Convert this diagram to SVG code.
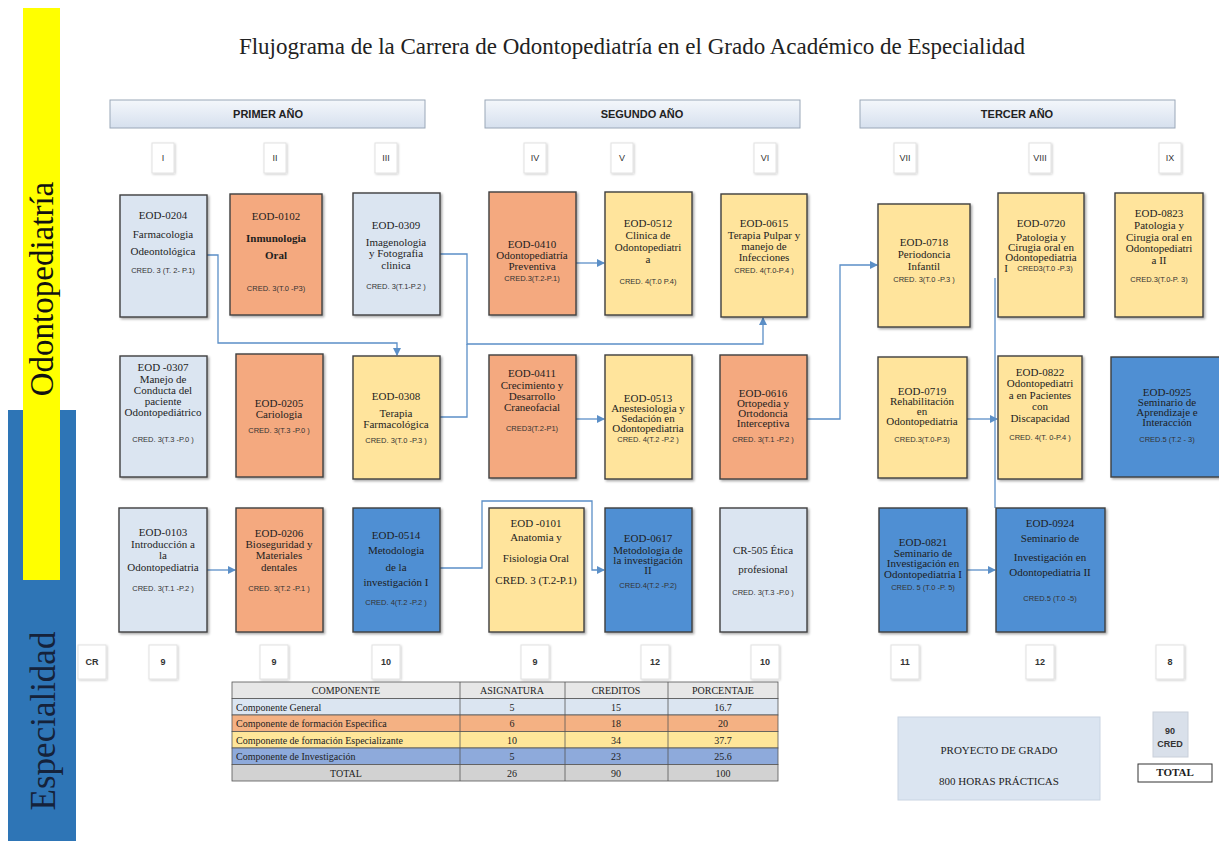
<svg xmlns="http://www.w3.org/2000/svg" width="1219" height="841" viewBox="0 0 1219 841">
<style>
.t{font-family:"Liberation Serif",serif;font-size:11px;fill:#1e1e1e;text-anchor:middle}
.c{font-family:"Liberation Sans",sans-serif;font-size:7.5px;fill:#333;text-anchor:middle}
.box{stroke:#3f3f3f;stroke-width:1.4;filter:url(#sh)}
.lb{fill:#dbe5f1}.or{fill:#f4a97f}.ye{fill:#ffe49c}.bl{fill:#4f8fd3}
.sm{fill:#fff;stroke:#e2e2e2;stroke-width:1;filter:url(#sh2)}
.sl{font-family:"Liberation Sans",sans-serif;font-size:9px;fill:#333;text-anchor:middle}
.yr{fill:url(#gy);stroke:#9aa7b8;stroke-width:1}
.yt{font-family:"Liberation Sans",sans-serif;font-size:11px;font-weight:bold;fill:#222;text-anchor:middle}
.cn{fill:none;stroke:#5b8fc7;stroke-width:1.3}
.tb{font-family:"Liberation Serif",serif;font-size:10px;fill:#222;text-anchor:middle}
.tl{font-family:"Liberation Serif",serif;font-size:10px;fill:#222}
.cell{stroke:#555;stroke-width:0.8}
</style>
<defs>
<filter id="sh" x="-10%" y="-10%" width="130%" height="130%"><feDropShadow dx="1.5" dy="1.5" stdDeviation="1" flood-color="#000" flood-opacity="0.35"/></filter>
<filter id="sh2" x="-20%" y="-20%" width="150%" height="150%"><feDropShadow dx="1" dy="1" stdDeviation="1" flood-color="#000" flood-opacity="0.2"/></filter>
<linearGradient id="gy" x1="0" y1="0" x2="0" y2="1"><stop offset="0" stop-color="#f4f7fb"/><stop offset="1" stop-color="#d6e0ee"/></linearGradient>
<marker id="ar" markerWidth="8" markerHeight="8" refX="7" refY="4" orient="auto" markerUnits="userSpaceOnUse"><path d="M0,0 L8,4 L0,8 z" fill="#5b8fc7"/></marker>
</defs>
<rect width="1219" height="841" fill="#fff"/>

<!-- side bars -->
<g id="side">
<rect x="8" y="410" width="68" height="431" fill="#2e75b6"/>
<rect x="23" y="8" width="37" height="572" fill="#ffff00"/>
<text transform="translate(53,289) rotate(-90)" font-family="Liberation Serif, serif" font-size="33" fill="#111" text-anchor="middle">Odontopediatría</text>
<text transform="translate(55,721) rotate(-90)" font-family="Liberation Serif, serif" font-size="35" fill="#15223a" text-anchor="middle">Especialidad</text>
</g>

<text x="632" y="54" font-family="Liberation Serif, serif" font-size="23" fill="#222" text-anchor="middle">Flujograma de la Carrera de Odontopediatría en el Grado Académico de Especialidad</text>

<!-- year headers -->
<g id="years">
<rect class="yr" x="110" y="100" width="315" height="28"/><text class="yt" x="268" y="118">PRIMER AÑO</text>
<rect class="yr" x="485" y="100" width="315" height="28"/><text class="yt" x="642" y="118">SEGUNDO AÑO</text>
<rect class="yr" x="860" y="100" width="315" height="28"/><text class="yt" x="1017" y="118">TERCER AÑO</text>
</g>

<!-- semesters -->
<g id="semesters">
<rect class="sm" x="152" y="143" width="22" height="30"/><text class="sl" x="163" y="161">I</text>
<rect class="sm" x="264" y="143" width="22" height="30"/><text class="sl" x="275" y="161">II</text>
<rect class="sm" x="375" y="143" width="22" height="30"/><text class="sl" x="386" y="161">III</text>
<rect class="sm" x="524" y="143" width="22" height="30"/><text class="sl" x="535" y="161">IV</text>
<rect class="sm" x="611" y="143" width="22" height="30"/><text class="sl" x="622" y="161">V</text>
<rect class="sm" x="754" y="143" width="22" height="30"/><text class="sl" x="765" y="161">VI</text>
<rect class="sm" x="894" y="143" width="22" height="30"/><text class="sl" x="905" y="161">VII</text>
<rect class="sm" x="1029" y="143" width="22" height="30"/><text class="sl" x="1040" y="161">VIII</text>
<rect class="sm" x="1159" y="143" width="22" height="30"/><text class="sl" x="1170" y="161">IX</text>
</g>

<!-- connectors -->
<g id="connectors">
<path class="cn" d="M207,255 H218 V343 H397 V355" marker-end="url(#ar)"/>
<path class="cn" d="M440,254 H467 V344 H763 V318" marker-end="url(#ar)"/>
<path class="cn" d="M440,417 H467 V344"/>
<path class="cn" d="M576,263 H604" marker-end="url(#ar)"/>
<path class="cn" d="M576,419 H604" marker-end="url(#ar)"/>
<path class="cn" d="M807,419 H840 V265 H877" marker-end="url(#ar)"/>
<path class="cn" d="M967,419 H997" marker-end="url(#ar)"/>
<path class="cn" d="M995,278 V508"/>
<path class="cn" d="M207,570 H235" marker-end="url(#ar)"/>
<path class="cn" d="M440,568 H482 V501 H592 V570 H604" marker-end="url(#ar)"/>
<path class="cn" d="M967,570 H995" marker-end="url(#ar)"/>
</g>

<!-- Row 1 -->
<g id="n0204"><rect class="box lb" x="120" y="195" width="87" height="122"/>
<text class="t" x="163" y="219">EOD-0204</text><text class="t" x="163" y="238">Farmacologia</text><text class="t" x="163" y="255">Odeontológica</text><text class="c" x="163" y="273">CRED. 3 (T. 2- P.1)</text></g>
<g id="n0102"><rect class="box or" x="230" y="194" width="92" height="121"/>
<text class="t" x="276" y="220">EOD-0102</text><text class="t" x="276" y="242" font-size="15" font-weight="bold">Inmunologia</text><text class="t" x="276" y="259" font-size="15" font-weight="bold">Oral</text><text class="c" x="276" y="291" font-size="8.5">CRED. 3(T.0 -P3)</text></g>
<g id="n0309"><rect class="box lb" x="353" y="193" width="87" height="122"/>
<text class="t" x="396" y="229">EOD-0309</text><text class="t" x="396" y="246">Imagenologia</text><text class="t" x="396" y="257">y Fotografia</text><text class="t" x="396" y="269">clinica</text><text class="c" x="396" y="289">CRED. 3(T.1-P.2 )</text></g>
<g id="n0410"><rect class="box or" x="489" y="192" width="87" height="123"/>
<text class="t" x="532" y="248">EOD-0410</text><text class="t" x="532" y="259">Odontopediatría</text><text class="t" x="532" y="270">Preventiva</text><text class="c" x="532" y="281">CRED.3(T.2-P.1)</text></g>
<g id="n0512"><rect class="box ye" x="605" y="192" width="87" height="123"/>
<text class="t" x="648" y="227">EOD-0512</text><text class="t" x="648" y="239">Clinica de</text><text class="t" x="648" y="251">Odontopediatri</text><text class="t" x="648" y="263">a</text><text class="c" x="648" y="284">CRED. 4(T.0  P.4)</text></g>
<g id="n0615"><rect class="box ye" x="721" y="194" width="86" height="123"/>
<text class="t" x="764" y="227">EOD-0615</text><text class="t" x="764" y="239">Terapia Pulpar y</text><text class="t" x="764" y="250">manejo de</text><text class="t" x="764" y="261">Infecciones</text><text class="c" x="764" y="273">CRED. 4(T.0-P.4 )</text></g>
<g id="n0718"><rect class="box ye" x="878" y="204" width="92" height="123"/>
<text class="t" x="924" y="246">EOD-0718</text><text class="t" x="924" y="258">Periodoncia</text><text class="t" x="924" y="270">Infantil</text><text class="c" x="924" y="282">CRED. 3(T.0 -P.3 )</text></g>
<g id="n0720"><rect class="box ye" x="998" y="193" width="86" height="124"/>
<text class="t" x="1041" y="227">EOD-0720</text><text class="t" x="1041" y="241">Patologia y</text><text class="t" x="1041" y="251">Cirugia oral  en</text><text class="t" x="1041" y="261">Odontopediatria</text><text class="t" x="1006" y="272" text-anchor="start">I</text><text class="c" x="1045" y="271">CRED3(T.0 -P.3)</text></g>
<g id="n0823"><rect class="box ye" x="1115" y="193" width="88" height="124"/>
<text class="t" x="1159" y="217">EOD-0823</text><text class="t" x="1159" y="229">Patologia y</text><text class="t" x="1159" y="241">Cirugia oral en</text><text class="t" x="1159" y="252">Odontopediatri</text><text class="t" x="1159" y="264">a II</text><text class="c" x="1159" y="282">CRED.3(T.0-P. 3)</text></g>

<!-- Row 2 -->
<g id="n0307"><rect class="box lb" x="120" y="356" width="87" height="121"/>
<text class="t" x="163" y="371">EOD -0307</text><text class="t" x="163" y="383">Manejo de</text><text class="t" x="163" y="394">Conducta del</text><text class="t" x="163" y="405">paciente</text><text class="t" x="163" y="416" font-size="8">Odontopediátrico</text><text class="c" x="163" y="442">CRED. 3(T.3 -P.0 )</text></g>
<g id="n0205"><rect class="box or" x="236" y="354" width="87" height="123"/>
<text class="t" x="279" y="407">EOD-0205</text><text class="t" x="279" y="418">Cariologia</text><text class="c" x="279" y="433">CRED. 3(T.3 -P.0 )</text></g>
<g id="n0308"><rect class="box ye" x="353" y="356" width="87" height="123"/>
<text class="t" x="396" y="400">EOD-0308</text><text class="t" x="396" y="417">Terapia</text><text class="t" x="396" y="428">Farmacológica</text><text class="c" x="396" y="443">CRED. 3(T.0 -P.3 )</text></g>
<g id="n0411"><rect class="box or" x="489" y="355" width="87" height="123"/>
<text class="t" x="532" y="377">EOD-0411</text><text class="t" x="532" y="389">Crecimiento y</text><text class="t" x="532" y="400">Desarrollo</text><text class="t" x="532" y="411">Craneofacial</text><text class="c" x="532" y="431">CRED3(T.2-P1)</text></g>
<g id="n0513"><rect class="box ye" x="605" y="355" width="87" height="124"/>
<text class="t" x="648" y="402" font-size="10.5">EOD-0513</text><text class="t" x="648" y="412" font-size="10.5">Anestesiologia y</text><text class="t" x="648" y="422" font-size="10.5">Sedación en</text><text class="t" x="648" y="432" font-size="10.5">Odontopediatria</text><text class="c" x="648" y="442">CRED. 4(T.2 -P.2 )</text></g>
<g id="n0616"><rect class="box or" x="720" y="355" width="87" height="124"/>
<text class="t" x="763" y="397" font-size="10.5">EOD-0616</text><text class="t" x="763" y="407" font-size="10.5">Ortopedia y</text><text class="t" x="763" y="417" font-size="10.5">Ortodoncia</text><text class="t" x="763" y="427" font-size="10.5">Interceptiva</text><text class="c" x="763" y="442">CRED. 3(T.1 -P.2 )</text></g>
<g id="n0719"><rect class="box ye" x="878" y="357" width="89" height="121"/>
<text class="t" x="922" y="395" font-size="10.5">EOD-0719</text><text class="t" x="922" y="405" font-size="10.5">Rehabilitación</text><text class="t" x="922" y="415" font-size="10.5">en</text><text class="t" x="922" y="425" font-size="10.5">Odontopediatria</text><text class="c" x="922" y="442">CRED.3(T.0-P.3)</text></g>
<g id="n0822"><rect class="box ye" x="998" y="356" width="84" height="123"/>
<text class="t" x="1040" y="376">EOD-0822</text><text class="t" x="1040" y="387">Odontopediatri</text><text class="t" x="1040" y="399">a en Pacientes</text><text class="t" x="1040" y="410">con</text><text class="t" x="1040" y="422" font-size="12">Discapacidad</text><text class="c" x="1040" y="440">CRED. 4(T. 0-P.4 )</text></g>
<g id="n0925"><rect class="box bl" x="1111" y="357" width="112" height="120"/>
<text class="t" x="1167" y="396" font-size="10">EOD-0925</text><text class="t" x="1167" y="406" font-size="10">Seminario de</text><text class="t" x="1167" y="416" font-size="10">Aprendizaje e</text><text class="t" x="1167" y="426" font-size="10">Interacción</text><text class="c" x="1167" y="442">CRED.5 (T.2 - 3)</text></g>

<!-- Row 3 -->
<g id="n0103"><rect class="box lb" x="119" y="508" width="88" height="124"/>
<text class="t" x="163" y="536">EOD-0103</text><text class="t" x="163" y="548">Introducción a</text><text class="t" x="163" y="559">la</text><text class="t" x="163" y="571">Odontopediatria</text><text class="c" x="163" y="591">CRED. 3(T.1 -P.2 )</text></g>
<g id="n0206"><rect class="box or" x="236" y="508" width="87" height="124"/>
<text class="t" x="279" y="537">EOD-0206</text><text class="t" x="279" y="548">Bioseguridad y</text><text class="t" x="279" y="559">Materiales</text><text class="t" x="279" y="571">dentales</text><text class="c" x="279" y="591">CRED. 3(T.2 -P.1 )</text></g>
<g id="n0514"><rect class="box bl" x="353" y="508" width="87" height="124"/>
<text class="t" x="396" y="539">EOD-0514</text><text class="t" x="396" y="554">Metodologia</text><text class="t" x="396" y="571">de la</text><text class="t" x="396" y="586">investigación I</text><text class="c" x="396" y="605">CRED. 4(T.2 -P.2 )</text></g>
<g id="n0101"><rect class="box ye" x="489" y="508" width="95" height="124"/>
<text class="t" x="536" y="527" font-size="12.5">EOD -0101</text><text class="t" x="536" y="541" font-size="12.5">Anatomia y</text><text class="t" x="536" y="562" font-size="12.5">Fisiologia Oral</text><text class="t" x="536" y="584" font-size="10">CRED. 3 (T.2-P.1)</text></g>
<g id="n0617"><rect class="box bl" x="605" y="508" width="87" height="124"/>
<text class="t" x="648" y="542">EOD-0617</text><text class="t" x="648" y="554">Metodologia de</text><text class="t" x="648" y="564">la investigación</text><text class="t" x="648" y="574">II</text><text class="c" x="648" y="588">CRED.4(T.2 -P.2)</text></g>
<g id="nCR505"><rect class="box lb" x="720" y="508" width="87" height="124"/>
<text class="t" x="763" y="554" font-size="13">CR-505  Ética</text><text class="t" x="763" y="573" font-size="12">profesional</text><text class="c" x="763" y="595">CRED. 3(T.3 -P.0 )</text></g>
<g id="n0821"><rect class="box bl" x="879" y="508" width="88" height="124"/>
<text class="t" x="923" y="546">EOD-0821</text><text class="t" x="923" y="557" font-size="8.5">Seminario de</text><text class="t" x="923" y="567" font-size="8.5">Investigación en</text><text class="t" x="923" y="578" font-size="9">Odontopediatria  I</text><text class="c" x="923" y="590">CRED. 5 (T.0 -P. 5)</text></g>
<g id="n0924"><rect class="box bl" x="996" y="508" width="109" height="124"/>
<text class="t" x="1050" y="527" font-size="12">EOD-0924</text><text class="t" x="1050" y="542" font-size="12">Seminario de</text><text class="t" x="1050" y="561" font-size="12">Investigación en</text><text class="t" x="1050" y="576" font-size="12">Odontopediatria II</text><text class="c" x="1050" y="601" font-size="8.5">CRED.5 (T.0 -5)</text></g>

<!-- credits row -->
<g id="credits">
<rect class="sm" x="78" y="645" width="28" height="34"/><text class="sl" x="92" y="665" font-weight="bold">CR</text>
<rect class="sm" x="149" y="645" width="28" height="34"/><text class="sl" x="163" y="665" font-weight="bold">9</text>
<rect class="sm" x="260" y="645" width="28" height="34"/><text class="sl" x="274" y="665" font-weight="bold">9</text>
<rect class="sm" x="372" y="645" width="28" height="34"/><text class="sl" x="386" y="665" font-weight="bold">10</text>
<rect class="sm" x="521" y="645" width="28" height="34"/><text class="sl" x="535" y="665" font-weight="bold">9</text>
<rect class="sm" x="641" y="645" width="28" height="34"/><text class="sl" x="655" y="665" font-weight="bold">12</text>
<rect class="sm" x="751" y="645" width="28" height="34"/><text class="sl" x="765" y="665" font-weight="bold">10</text>
<rect class="sm" x="891" y="645" width="28" height="34"/><text class="sl" x="905" y="665" font-weight="bold">11</text>
<rect class="sm" x="1026" y="645" width="28" height="34"/><text class="sl" x="1040" y="665" font-weight="bold">12</text>
<rect class="sm" x="1156" y="645" width="28" height="34"/><text class="sl" x="1170" y="665" font-weight="bold">8</text>
</g>

<!-- table -->
<g id="table">
<rect class="cell" x="232" y="682" width="546" height="16.5" fill="#e7e7e7"/>
<rect class="cell" x="232" y="698.5" width="546" height="16.5" fill="#dbe5f1"/>
<rect class="cell" x="232" y="715" width="546" height="16.5" fill="#f4b183"/>
<rect class="cell" x="232" y="731.5" width="546" height="16.5" fill="#ffe699"/>
<rect class="cell" x="232" y="748" width="546" height="16.5" fill="#8eaadb"/>
<rect class="cell" x="232" y="764.5" width="546" height="16.5" fill="#d2d2d2"/>
<path class="cell" d="M460,682 V781 M565,682 V781 M668,682 V781" fill="none"/>
<text class="tb" x="346" y="694">COMPONENTE</text><text class="tb" x="512" y="694">ASIGNATURA</text><text class="tb" x="616" y="694">CREDITOS</text><text class="tb" x="723" y="694">PORCENTAJE</text>
<text class="tl" x="236" y="711">Componente General</text><text class="tb" x="512" y="711">5</text><text class="tb" x="616" y="711">15</text><text class="tb" x="723" y="711">16.7</text>
<text class="tl" x="236" y="727">Componente de formación Especifica</text><text class="tb" x="512" y="727">6</text><text class="tb" x="616" y="727">18</text><text class="tb" x="723" y="727">20</text>
<text class="tl" x="236" y="744">Componente de formación Especializante</text><text class="tb" x="512" y="744">10</text><text class="tb" x="616" y="744">34</text><text class="tb" x="723" y="744">37.7</text>
<text class="tl" x="236" y="760">Componente de Investigación</text><text class="tb" x="512" y="760">5</text><text class="tb" x="616" y="760">23</text><text class="tb" x="723" y="760">25.6</text>
<text class="tb" x="346" y="777">TOTAL</text><text class="tb" x="512" y="777">26</text><text class="tb" x="616" y="777">90</text><text class="tb" x="723" y="777">100</text>
</g>

<!-- totals -->
<g id="proyecto">
<rect x="898" y="717" width="202" height="83" fill="#dbe5f1" stroke="#c9d4e2" stroke-width="1"/>
<text class="t" x="999" y="754" font-size="11.5">PROYECTO DE GRADO</text>
<text class="t" x="999" y="785" font-size="11.5">800 HORAS PRÁCTICAS</text>
</g>
<g id="total90">
<rect x="1153" y="712" width="35" height="45" fill="#d9e0ea" stroke="#c9d0da" stroke-width="1"/>
<text class="sl" x="1170" y="734" font-weight="bold">90</text>
<text class="sl" x="1170" y="747" font-weight="bold">CRED</text>
</g>
<g id="totallabel">
<rect x="1138" y="764" width="74" height="18" fill="#fff" stroke="#333" stroke-width="1"/>
<text class="t" x="1175" y="776" font-size="8.5" font-weight="bold">TOTAL</text>
</g>
</svg>
